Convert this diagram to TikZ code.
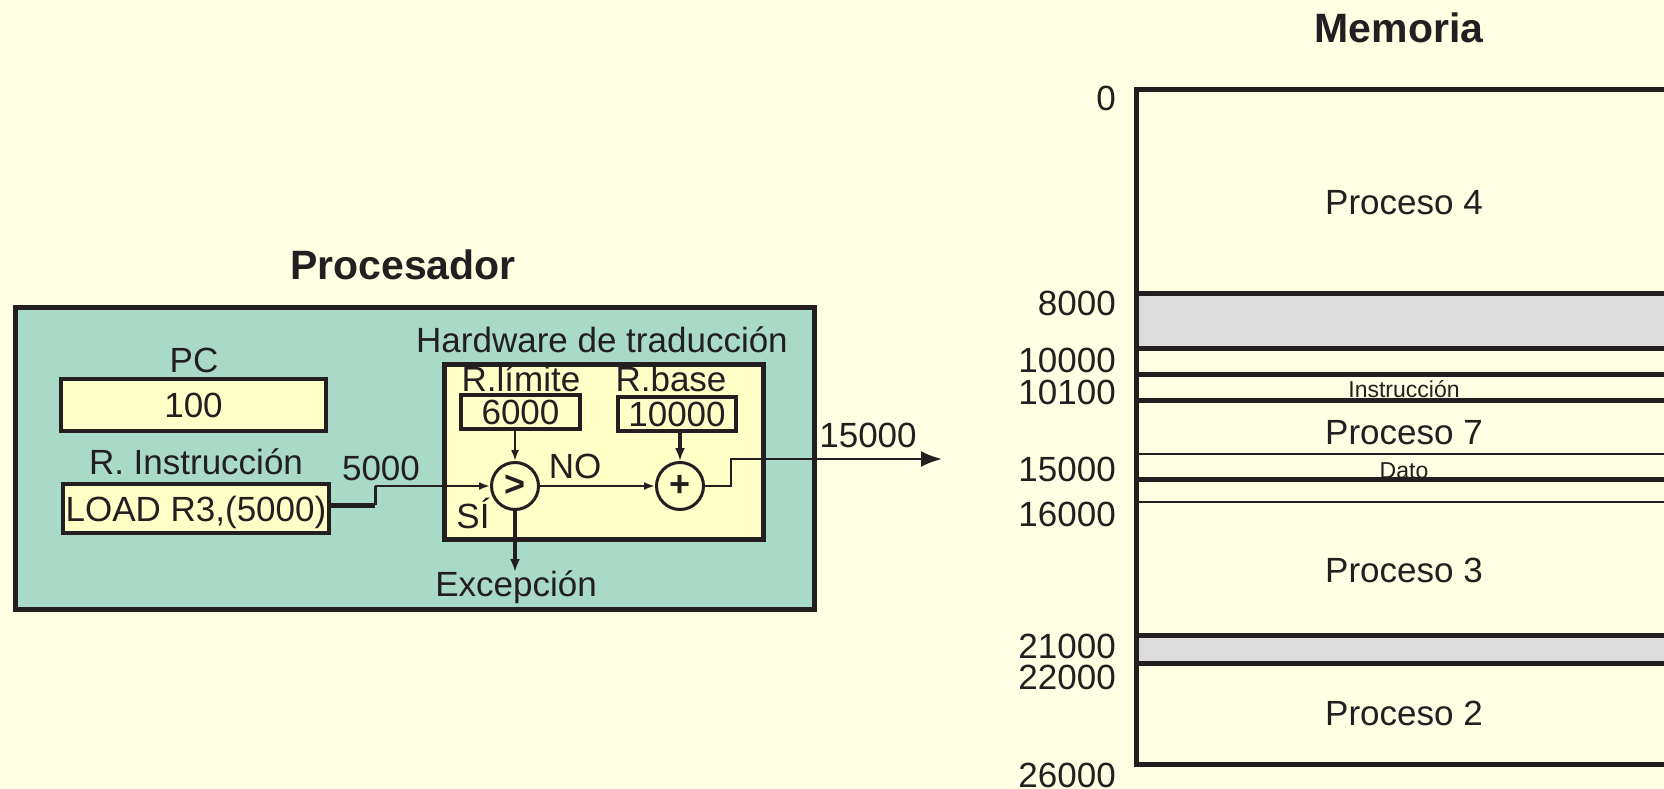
\documentclass[tikz,border=0pt]{standalone}
\usepackage{fontspec}
\setmainfont{Liberation Sans}
\usetikzlibrary{arrows.meta}
\definecolor{bgc}{HTML}{FFFFE3}
\definecolor{procfill}{HTML}{A8DAC7}
\definecolor{boxfill}{HTML}{FFFFC8}
\definecolor{bandc}{HTML}{DCDCDC}
\definecolor{ink}{HTML}{231F20}
\tikzset{
  txt/.style={text=ink, font=\fontsize{35}{40}\selectfont, inner sep=0pt, text height=25pt, text depth=0pt},
  smalltxt/.style={text=ink, font=\fontsize{23}{26}\selectfont, inner sep=0pt, text height=16.5pt, text depth=0pt},
  titletxt/.style={text=ink, font=\fontsize{41}{46}\selectfont\bfseries, inner sep=0pt, text height=29.5pt, text depth=0pt},
  memlbl/.style={txt, anchor=east},
  regbox/.style={draw=ink, fill=boxfill, line width=4pt, inner sep=0pt},
  smallreg/.style={draw=ink, fill=boxfill, line width=3.3pt, inner sep=0pt},
  opcirc/.style={circle, draw=ink, fill=boxfill, line width=3pt, minimum size=47pt, inner sep=0pt,
     font=\fontsize{36}{40}\selectfont\bfseries, text=ink},
  thinarrow/.style={draw=ink, line width=2pt, -{Latex[length=11pt,width=8pt]}},
  thickarrow/.style={draw=ink, line width=4.5pt, -{Latex[length=13pt,width=10pt]}},
  thickline/.style={draw=ink, line width=5pt},
  memthick/.style={draw=ink, line width=5pt},
  memthin/.style={draw=ink, line width=2.5pt},
}
\begin{document}
\begin{tikzpicture}[x=1pt, y=-1pt]
\useasboundingbox[fill=bgc] (0,0) rectangle (1664,789);

% ---------------- Procesador ----------------
\node[titletxt] (proctitle) at (403,265) {Procesador};
\node[draw=ink, fill=procfill, line width=5.5pt, minimum width=799pt, minimum height=302pt, inner sep=0pt] (proc) at (415,458.5) {};

\node[txt] (pclbl) at (194,360) {PC};
\node[regbox, minimum width=265pt, minimum height=52pt] (pc) at (193.5,405) {};
\node[txt] (pcval) at (pc.center) {100};

\node[txt] (irlbl) at (196,462) {R. Instrucción};
\node[regbox, minimum width=266pt, minimum height=49pt] (ir) at (196,508.5) {};
\node[txt] (irval) at (ir.center) {LOAD R3,(5000)};

\node[txt] (hwlbl) at (602,340) {Hardware de traducción};
\node[draw=ink, fill=boxfill, line width=5pt, minimum width=319pt, minimum height=175pt, inner sep=0pt] (hw) at (603.5,451.5) {};

\node[txt] (limlbl) at (521,379) {R.límite};
\node[smallreg, minimum width=119pt, minimum height=34pt] (lim) at (520.5,412) {};
\node[txt] (limval) at (lim.center) {6000};

\node[txt] (baselbl) at (671,379) {R.base};
\node[smallreg, minimum width=118pt, minimum height=34pt] (base) at (677,414) {};
\node[txt] (baseval) at (base.center) {10000};

\node[opcirc] (cmp) at (515,486) {>};
\node[opcirc] (add) at (680,486) {+};

\node[txt] (nolbl) at (575,466) {NO};
\node[txt] (silbl) at (473,516) {SÍ};
\node[txt] (exc) at (516,584) {Excepción};
\node[txt] (lbl5000) at (381,468) {5000};
\node[txt] (lbl15000) at (868,435) {15000};

\coordinate (k1) at (375,505);
\coordinate (out) at (942,459);
\coordinate (exctip) at (515,572);

\draw[thickline] (ir.east |- k1) -- (k1);
\draw[draw=ink, line width=3pt] (k1) -- (k1 |- cmp.west);
\draw[thinarrow] (k1 |- cmp.west) -- (cmp.west);
\draw[thinarrow] (lim.south -| cmp.north) -- (cmp.north);
\draw[thickarrow] (base.south -| add.north) -- (add.north);
\draw[thinarrow] (cmp.east) -- (add.west);
\draw[thickarrow] (cmp.south) -- (exctip);
\draw[draw=ink, line width=2.5pt, -{Latex[length=21pt,width=16pt]}] (add.east) -- ++(26,0) |- (out);

% ---------------- Memoria ----------------
\node[titletxt] (memtitle) at (1399,28) {Memoria};

\fill[bandc] (1136,293) rectangle (1680,348);
\fill[bandc] (1136,635) rectangle (1680,663);

\draw[memthick] (1680,90) -- (1136,90) -- (1136,764) -- (1680,764);
\foreach \yy in {293,348,374,400,479,635,663} {
  \draw[memthick] (1136,\yy) -- (1680,\yy);
}
\foreach \yy in {454,502} {
  \draw[memthin] (1136,\yy) -- (1680,\yy);
}

\node[memlbl] (m0) at (1116,98) {0};
\node[memlbl] (m8000) at (1116,303) {8000};
\node[memlbl] (m10000) at (1116,360) {10000};
\node[memlbl] (m10100) at (1116,392) {10100};
\node[memlbl] (m15000) at (1116,469) {15000};
\node[memlbl] (m16000) at (1116,514) {16000};
\node[memlbl] (m21000) at (1116,646) {21000};
\node[memlbl] (m22000) at (1116,677) {22000};
\node[memlbl] (m26000) at (1116,775) {26000};

\node[txt] (p4) at (1404,202) {Proceso 4};
\node[smalltxt] (instr) at (1404,389) {Instrucción};
\node[txt] (p7) at (1404,432) {Proceso 7};
\node[smalltxt] (dato) at (1404,470) {Dato};
\node[txt] (p3) at (1404,570) {Proceso 3};
\node[txt] (p2) at (1404,713) {Proceso 2};
\end{tikzpicture}
\end{document}
